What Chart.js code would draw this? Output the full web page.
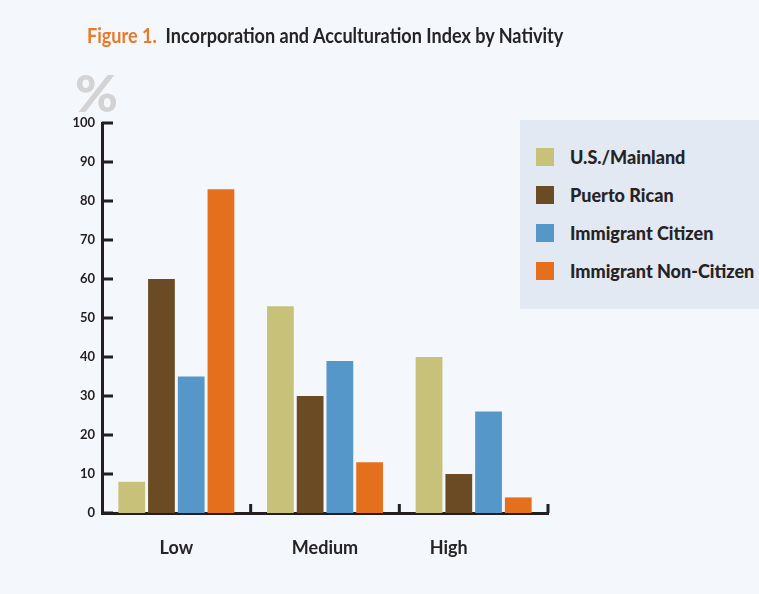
<!DOCTYPE html>
<html>
<head>
<meta charset="utf-8">
<script src="https://cdn.jsdelivr.net/npm/chart.js@4.4.1/dist/chart.umd.min.js"></script>
<style>
    body { margin: 0; background: #f4f7fb; }
    #wrap { position: relative; width: 759px; height: 594px; background: #f4f7fb; font-family: Lato, sans-serif; }
    #title { position: absolute; left: 87px; top: 22px; font-size: 21px; font-weight: bold; color: #262324; white-space: nowrap; transform: scaleX(0.86); transform-origin: left top; }
    #title span { color: #e8792a; }
    #pct { position: absolute; left: 75px; top: 61px; font-size: 52px; font-weight: 900; color: #d3d3d3; }
    #legend { position: absolute; left: 520px; top: 120px; width: 239px; height: 189px; background: #e2e9f3; }
    .item { position: absolute; left: 16px; height: 20px; font-size: 18px; font-weight: bold; color: #262324; white-space: nowrap; }
    .item i { position: absolute; left: 0; top: 1px; width: 18px; height: 18px; }
    .item b { position: absolute; left: 34px; top: 0; line-height: 20px; }
    canvas { position: absolute; left: 0; top: 0; }
</style>
</head>
<body>
<div id="wrap">
    <canvas id="chart" width="759" height="594"></canvas>
    <div id="title"><span>Figure 1.</span>&nbsp; Incorporation and Acculturation Index by Nativity</div>
    <div id="pct">%</div>
    <div id="legend"></div>
</div>
<script>
const categories = ['Low', 'Medium', 'High'];
const seriesNames = ['U.S./Mainland', 'Puerto Rican', 'Immigrant Citizen', 'Immigrant Non-Citizen'];
const usMainland = [8, 53, 40];
const puertoRican = [60, 30, 10];
const immCitizen = [35, 39, 26];
const immNonCitizen = [83, 13, 4];
const yTicks = [0, 10, 20, 30, 40, 50, 60, 70, 80, 90, 100];

const colors = ['#c8c17a', '#6b4b24', '#5597c9', '#e4701e'];
const ink = '#231f20';
// High label sits a bit left of its group in the original
const labelNudge = [0, 0, -25];

const legend = document.getElementById('legend');
seriesNames.forEach(function(name, i) {
    const item = document.createElement('div');
    item.className = 'item';
    item.style.top = (27 + i * 38) + 'px';
    item.innerHTML = '<i style="background:' + colors[i] + '"></i><b>' + name + '</b>';
    legend.appendChild(item);
});

const axisDeco = {
    id: 'axisDeco',
    afterDraw(chart) {
        const ctx = chart.ctx;
        const x = chart.scales.x, y = chart.scales.y;
        const area = chart.chartArea;
        ctx.save();
        ctx.strokeStyle = ink;
        ctx.lineWidth = 3;
        // y ticks point into the plot
        yTicks.forEach(function(v) {
            const py = y.getPixelForValue(v);
            ctx.beginPath();
            ctx.moveTo(area.left, py);
            ctx.lineTo(area.left + 11, py);
            ctx.stroke();
        });
        // group separators on x axis
        const half = (x.getPixelForValue(1) - x.getPixelForValue(0)) / 2;
        categories.forEach(function(c, i) {
            const px = x.getPixelForValue(i) + half;
            ctx.beginPath();
            ctx.moveTo(px, area.bottom);
            ctx.lineTo(px, area.bottom - 9);
            ctx.stroke();
        });
        // category labels
        ctx.fillStyle = '#262324';
        ctx.font = 'bold 18px Lato';
        ctx.textAlign = 'center';
        ctx.textBaseline = 'middle';
        categories.forEach(function(c, i) {
            ctx.fillText(c, x.getPixelForValue(i) + labelNudge[i], area.bottom + 35);
        });
        ctx.restore();
    }
};

const data = [usMainland, puertoRican, immCitizen, immNonCitizen];

new Chart(document.getElementById('chart'), {
    type: 'bar',
    data: {
        labels: categories,
        datasets: seriesNames.map(function(name, i) {
            return {
                label: name,
                data: data[i],
                backgroundColor: colors[i],
                barPercentage: 0.9,
                categoryPercentage: 0.8
            };
        })
    },
    options: {
        responsive: false,
        animation: false,
        layout: { padding: { left: 62, right: 211, top: 123, bottom: 81 } },
        plugins: { legend: { display: false }, tooltip: { enabled: false } },
        scales: {
            x: {
                grid: { display: false },
                border: { color: ink, width: 3 },
                ticks: { display: false },
                afterFit(s) { s.height = 0; }
            },
            y: {
                min: 0,
                max: 100,
                afterBuildTicks(s) { s.ticks = yTicks.map(function(v) { return { value: v }; }); },
                afterFit(s) { s.width = 40; },
                grid: { display: false, drawTicks: false },
                border: { color: ink, width: 3 },
                ticks: { color: ink, font: { family: 'Lato', weight: 'bold', size: 13 }, padding: 7 }
            }
        }
    },
    plugins: [axisDeco]
});
</script>
</body>
</html>
